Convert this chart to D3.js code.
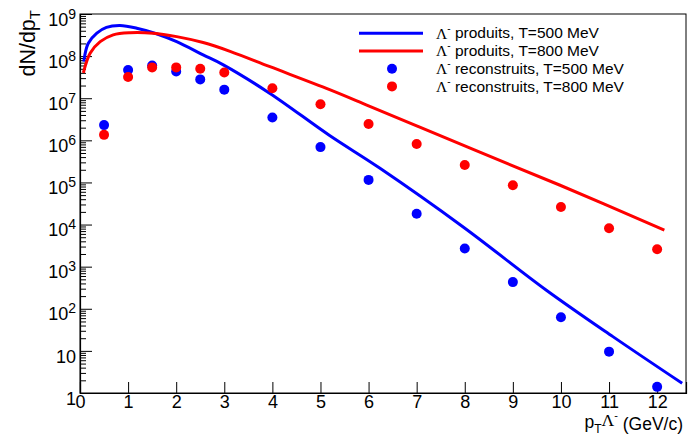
<!DOCTYPE html>
<html>
<head>
<meta charset="utf-8">
<script src="https://cdn.jsdelivr.net/npm/d3@7"></script>
<style>
  body { margin: 0; background: #fff; }
  svg { display: block; }
  text { font-family: "Liberation Sans", Arial, sans-serif; }
</style>
</head>
<body>
<script>
// produced spectra (curves)
var prodPt500 = [0.08, 0.10, 0.17, 0.35, 0.55, 0.83, 1.18, 1.59, 2.01, 2.56, 2.98, 3.95, 5.19, 6.23, 7.96, 9.69, 11.08, 12.52];
var prod500 = [7.4e7, 1.05e8, 2.0e8, 3.5e8, 4.8e8, 5.3e8, 4.6e8, 3.4e8, 2.2e8, 1.07e8, 6.2e7, 1.3e7, 1.3e6, 2.2e5, 8.9e3, 280, 21.8, 1.7];
var prodPt800 = [0.07, 0.21, 0.42, 0.69, 1.04, 1.52, 2.01, 2.56, 3.12, 3.95, 5.19, 6.0, 7.0, 8.2, 9.97, 12.15];
var prod800 = [4.0e7, 1.17e8, 2.2e8, 3.2e8, 3.6e8, 3.5e8, 2.9e8, 2.1e8, 1.3e8, 5.6e7, 1.6e7, 6.6e6, 2.2e6, 5.9e5, 8.7e4, 7.4e3];

// reconstructed points
var recoPt = [0.5, 1, 1.5, 2, 2.5, 3, 4, 5, 6, 7, 8, 9, 10, 11, 12];
var reco500 = [2.3e6, 4.7e7, 6.0e7, 4.3e7, 2.8e7, 1.6e7, 3.5e6, 6.9e5, 1.15e5, 1.8e4, 2.7e3, 430, 63, 9.6, 1.4];
var reco800 = [1.35e6, 3.2e7, 5.4e7, 5.4e7, 5.0e7, 4.1e7, 1.73e7, 7.2e6, 2.45e6, 8.2e5, 2.6e5, 8.6e4, 2.6e4, 8.2e3, 2.6e3];

var xTicks = [0, 1, 2, 3, 4, 5, 6, 7, 8, 9, 10, 11, 12];
var yTicks = [1, 10, 1e2, 1e3, 1e4, 1e5, 1e6, 1e7, 1e8, 1e9];
var legendLabels = ['produits, T=500 MeV', 'produits, T=800 MeV', 'reconstruits, T=500 MeV', 'reconstruits, T=800 MeV'];

var width = 688, height = 439;
var padL = 80, padR = 686, padT = 14, padB = 393;

var svg = d3.select('body').append('svg')
  .attr('width', width)
  .attr('height', height);

var x = d3.scaleLinear().domain([0, 12.6]).range([padL, padR]);
var y = d3.scaleLog().domain([1, 1e9]).range([padB, padT]);

// frame
svg.append('rect')
  .attr('x', padL).attr('y', padT)
  .attr('width', padR - padL).attr('height', padB - padT)
  .attr('fill', 'none').attr('stroke', '#000').attr('stroke-width', 1);

// x axis
var xAxis = svg.append('g')
  .attr('transform', 'translate(0,' + padB + ')')
  .call(d3.axisBottom(x).tickValues(xTicks).tickSize(-11).tickPadding(2).tickFormat(d3.format('d')));
xAxis.select('.domain').attr('stroke-width', 1.2);
xAxis.selectAll('text').attr('font-size', 18).attr('font-family', '"Liberation Sans", Arial, sans-serif').attr('fill', '#000');

// y minor ticks
var minor = [];
for (var k = 0; k < 9; k++) {
  for (var m = 2; m <= 9; m++) minor.push(m * Math.pow(10, k));
}
var yMinor = svg.append('g')
  .attr('transform', 'translate(' + padL + ',0)')
  .call(d3.axisLeft(y).tickValues(minor).tickSize(-6).tickFormat(''));
yMinor.select('.domain').remove();

// y major ticks
var yAxis = svg.append('g')
  .attr('transform', 'translate(' + padL + ',0)')
  .call(d3.axisLeft(y).tickValues(yTicks).tickSize(-12).tickPadding(4).tickFormat(''));
yAxis.select('.domain').attr('stroke-width', 1.2);

yAxis.selectAll('.tick text').each(function (d) {
  var t = d3.select(this)
    .attr('font-size', 18)
    .attr('font-family', '"Liberation Sans", Arial, sans-serif')
    .attr('fill', '#000')
    .attr('dy', '0.62em');
  var e = Math.round(Math.log10(d));
  if (e == 0) t.text('1');
  else if (e == 1) t.text('10');
  else {
    t.append('tspan').text('10');
    t.append('tspan').attr('font-size', 14).attr('dy', '-0.5em').text(e);
  }
});

// curves
var line = d3.line()
  .x(function (d) { return x(d[0]); })
  .y(function (d) { return y(d[1]); })
  .curve(d3.curveCatmullRom.alpha(0.5));

svg.append('path')
  .datum(d3.zip(prodPt500, prod500))
  .attr('d', line)
  .attr('fill', 'none').attr('stroke', '#0000ff').attr('stroke-width', 3);

svg.append('path')
  .datum(d3.zip(prodPt800, prod800))
  .attr('d', line)
  .attr('fill', 'none').attr('stroke', '#ff0000').attr('stroke-width', 3);

// points
svg.append('g').selectAll('circle')
  .data(d3.zip(recoPt, reco500))
  .enter().append('circle')
  .attr('cx', function (d) { return x(d[0]); })
  .attr('cy', function (d) { return y(d[1]); })
  .attr('r', 5)
  .attr('fill', '#0000ff');

svg.append('g').selectAll('circle')
  .data(d3.zip(recoPt, reco800))
  .enter().append('circle')
  .attr('cx', function (d) { return x(d[0]); })
  .attr('cy', function (d) { return y(d[1]); })
  .attr('r', 5)
  .attr('fill', '#ff0000');

// legend
var colors = ['#0000ff', '#ff0000', '#0000ff', '#ff0000'];
var legend = svg.append('g');
legendLabels.forEach(function (lab, i) {
  var cy = 33.3 + i * 17.7;
  if (i < 2) {
    legend.append('line')
      .attr('x1', 359).attr('x2', 423)
      .attr('y1', cy).attr('y2', cy)
      .attr('stroke', colors[i]).attr('stroke-width', 3);
  } else {
    legend.append('circle')
      .attr('cx', 392).attr('cy', cy).attr('r', 5)
      .attr('fill', colors[i]);
  }
  var t = legend.append('text')
    .attr('x', 436).attr('y', cy + 5.2)
    .attr('font-size', 15.5).attr('fill', '#000');
  t.append('tspan').attr('font-family', '"Liberation Serif", "DejaVu Serif", serif').text('\u039B');
  t.append('tspan').attr('font-size', 10).attr('dy', '-0.7em').text('-');
  t.append('tspan').attr('dy', '0.45em').text(' ' + lab);
});

// axis titles
var xt = svg.append('text')
  .attr('x', 683).attr('y', 428)
  .attr('text-anchor', 'end')
  .attr('font-size', 17.5).attr('fill', '#000');
xt.append('tspan').text('p');
xt.append('tspan').attr('font-size', 12).attr('dy', '0.4em').text('T');
xt.append('tspan').attr('dy', '-0.4em').attr('font-family', '"Liberation Serif", "DejaVu Serif", serif').text('\u039B');
xt.append('tspan').attr('font-size', 11).attr('dy', '-0.6em').text('-');
xt.append('tspan').attr('dy', '0.6em').text(' (GeV/c)');

var yt = svg.append('text')
  .attr('transform', 'translate(35,10) rotate(-90)')
  .attr('text-anchor', 'end')
  .attr('font-size', 21.5).attr('fill', '#000');
yt.append('tspan').text('dN/dp');
yt.append('tspan').attr('font-size', 15).attr('dy', '0.35em').text('T');
</script>
</body>
</html>
